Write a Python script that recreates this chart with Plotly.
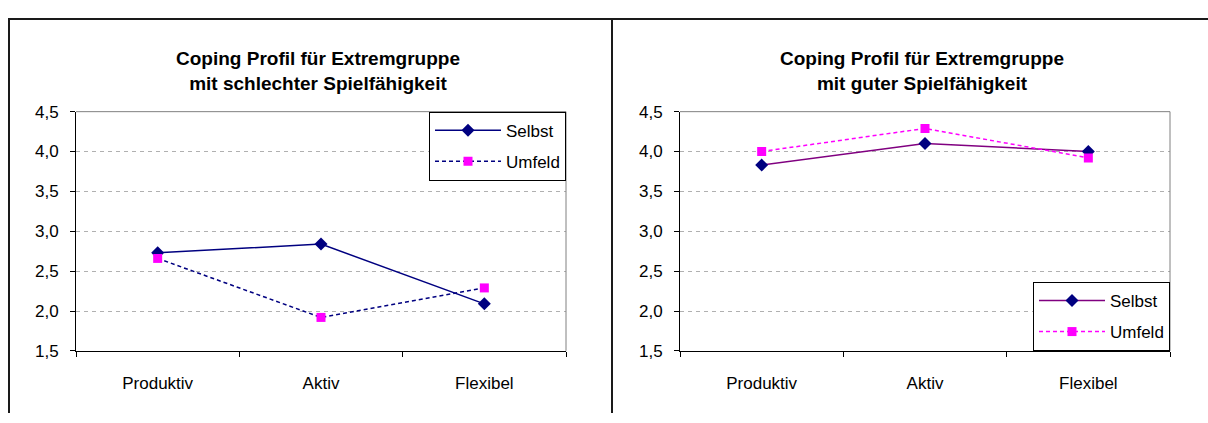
import plotly.graph_objects as go

categories = ["Produktiv", "Aktiv", "Flexibel"]

# Gruppe mit schlechter Spielfähigkeit
schlecht_selbst = [2.73, 2.84, 2.09]
schlecht_umfeld = [2.66, 1.92, 2.29]

# Gruppe mit guter Spielfähigkeit
gut_selbst = [3.83, 4.10, 4.00]
gut_umfeld = [4.00, 4.29, 3.92]

y_ticks = [1.5, 2.0, 2.5, 3.0, 3.5, 4.0, 4.5]

titles = [
    "Coping Profil für Extremgruppe<br>mit schlechter Spielfähigkeit",
    "Coping Profil für Extremgruppe<br>mit guter Spielfähigkeit",
]

W, H = 1208, 423
FONT = "Liberation Sans, Arial, sans-serif"
NAVY = "#000080"
MAGENTA = "#FF00FF"
PURPLE = "#800080"
TICK_SIZE = 17

# plot-area pixel boxes (left, right) and shared top/bottom
panels = [(76, 566), (680, 1170)]
top_px, bottom_px = 107.5, 358


def px_x(p):
    return p / W


def px_y(p):
    return 1 - p / H


fig = go.Figure()

series = [
    # (x-axis, y-axis, legend, values, name, line colour, dashed, marker symbol, marker colour)
    ("x", "y", "legend", schlecht_selbst, "Selbst", NAVY, False, "diamond", NAVY),
    ("x", "y", "legend", schlecht_umfeld, "Umfeld", NAVY, True, "square", MAGENTA),
    ("x2", "y2", "legend2", gut_selbst, "Selbst", PURPLE, False, "diamond", NAVY),
    ("x2", "y2", "legend2", gut_umfeld, "Umfeld", MAGENTA, True, "square", MAGENTA),
]
for i, (xa, ya, leg, vals, name, lc, dashed, sym, mc) in enumerate(series):
    fig.add_trace(go.Scatter(
        x=categories, y=vals, name=name, mode="lines+markers",
        xaxis=xa, yaxis=ya, legend=leg, legendgroup=f"g{i}",
        line=dict(color=lc, width=1.5, dash="4px,3px" if dashed else "solid"),
        marker=dict(symbol=sym, color=mc, size=10 if sym == "diamond" else 9,
                    line=dict(width=0)),
    ))

axis_common = dict(
    showline=True, linecolor="black", linewidth=1, mirror=False,
    ticks="outside", ticklen=5, tickcolor="black", tickwidth=1,
    tickfont=dict(family=FONT, size=TICK_SIZE, color="black"),
    zeroline=False, fixedrange=True,
)

layout = dict(
    width=W, height=H, margin=dict(l=0, r=0, t=0, b=0),
    paper_bgcolor="white", plot_bgcolor="white",
    separators=",.",
    font=dict(family=FONT, color="black"),
    showlegend=True,
)

for k, (l, r) in enumerate(panels):
    sx = "" if k == 0 else str(k + 1)
    layout[f"xaxis{sx}"] = dict(
        axis_common, type="category", domain=[px_x(l), px_x(r)],
        range=[-0.5, 2.5], tickson="boundaries", showgrid=False,
        ticklabelstandoff=17, anchor=f"y{sx}",
    )
    layout[f"yaxis{sx}"] = dict(
        axis_common, domain=[px_y(bottom_px), px_y(top_px)],
        range=[1.5, 4.5], tickvals=y_ticks, tickformat=".1f",
        showgrid=True, gridcolor="#b0b0b0", gridwidth=1, griddash="4px,4px",
        ticklabelstandoff=8, anchor=f"x{sx}",
    )

legend_common = dict(
    bgcolor="white", bordercolor="black", borderwidth=1,
    font=dict(family=FONT, size=TICK_SIZE, color="black"),
    itemwidth=66, tracegroupgap=6, orientation="v",
    itemclick=False, itemdoubleclick=False,
)
layout["legend"] = dict(legend_common, x=px_x(panels[0][1]), xanchor="right",
                        y=px_y(top_px), yanchor="top")
layout["legend2"] = dict(legend_common, x=px_x(panels[1][1]), xanchor="right",
                         y=px_y(bottom_px), yanchor="bottom")

fig.update_layout(**layout)

# two-line chart titles centred above each plot area
for k, (l, r) in enumerate(panels):
    fig.add_annotation(
        text=f"<b>{titles[k]}</b>", xref="paper", yref="paper",
        x=px_x((l + r) / 2 - 3), y=px_y(65),
        xanchor="center", yanchor="middle", align="center",
        showarrow=False, font=dict(family=FONT, size=19, color="black"),
    )

shapes = []
# grey border on the open sides of each plot area
for l, r in panels:
    shapes.append(dict(type="line", xref="paper", yref="paper",
                       x0=px_x(l), x1=px_x(r), y0=px_y(top_px), y1=px_y(top_px),
                       line=dict(color="#808080", width=1)))
    shapes.append(dict(type="line", xref="paper", yref="paper",
                       x0=px_x(r), x1=px_x(r), y0=px_y(top_px), y1=px_y(bottom_px),
                       line=dict(color="#808080", width=1)))
# outer frame of the two chart objects
frame = dict(color="#1a1a1a", width=2)
shapes.append(dict(type="line", xref="paper", yref="paper",
                   x0=px_x(8), x1=1, y0=px_y(10.5), y1=px_y(10.5), line=frame))
shapes.append(dict(type="line", xref="paper", yref="paper",
                   x0=px_x(9), x1=px_x(9), y0=px_y(10.5), y1=0, line=frame))
shapes.append(dict(type="line", xref="paper", yref="paper",
                   x0=px_x(612), x1=px_x(612), y0=px_y(10.5), y1=0, line=frame))
fig.update_layout(shapes=shapes)

fig.write_html("out.html")
